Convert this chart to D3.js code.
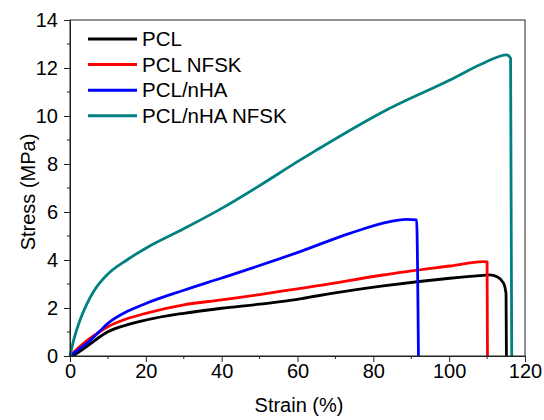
<!DOCTYPE html>
<html>
<head>
<meta charset="utf-8">
<script src="https://cdn.jsdelivr.net/npm/d3@7"></script>
<style>
  body { margin:0; background:#fff; }
  text { font-family: "Liberation Sans", Arial, sans-serif; fill:#000; }
</style>
</head>
<body>
<div class="svgContainer"></div>
<script>
// values (strain %, stress MPa)
var names   = ["PCL", "PCL NFSK", "PCL/nHA", "PCL/nHA NFSK"];
var colors  = ["#000000", "#ff0000", "#0000ff", "#008080"];

var pclStrain  = [0.8, 2.5, 5, 7.5, 10, 15, 20, 30, 40, 50, 60, 65, 82.6, 100.2, 108, 110.8, 112.5, 114.3, 115, 115.1];
var pclStress  = [0, 0.18, 0.46, 0.76, 1.01, 1.3, 1.5, 1.78, 1.99, 2.16, 2.36, 2.5, 2.92, 3.24, 3.35, 3.38, 3.31, 3.05, 2.6, 0];

var nfskStrain = [0, 2.5, 5, 7.5, 10, 15, 20, 30, 40, 50, 60, 65, 82.6, 100.2, 109, 110, 110.1];
var nfskStress = [0, 0.38, 0.7, 0.98, 1.22, 1.55, 1.78, 2.13, 2.34, 2.56, 2.8, 2.92, 3.375, 3.75, 3.93, 3.92, 0];

var nhaStrain  = [0, 2.5, 5, 7.5, 10, 15, 20, 30, 40, 50, 60.7, 73.8, 84.4, 88.8, 91.4, 91.9];
var nhaStress  = [0, 0.3, 0.6, 0.98, 1.36, 1.85, 2.19, 2.74, 3.25, 3.77, 4.35, 5.11, 5.6, 5.69, 5.67, 0];

var bothStrain = [0, 1, 2.6, 4.4, 6.1, 8, 10, 15, 20, 30, 40, 50, 60, 65, 82.6, 100.2, 109, 115.2, 116.2, 116.5];
var bothStress = [0, 0.68, 1.48, 2.15, 2.66, 3.08, 3.42, 4.0, 4.49, 5.3, 6.15, 7.1, 8.1, 8.58, 10.18, 11.5, 12.2, 12.55, 12.4, 0];

var xTicks = [0, 20, 40, 60, 80, 100, 120];
var yTicks = [0, 2, 4, 6, 8, 10, 12, 14];

var series = [
  {name: names[0], color: colors[0], x: pclStrain,  y: pclStress},
  {name: names[1], color: colors[1], x: nfskStrain, y: nfskStress},
  {name: names[2], color: colors[2], x: nhaStrain,  y: nhaStress},
  {name: names[3], color: colors[3], x: bothStrain, y: bothStress}
];

var width = 544, height = 420;
var margin = {left:70, right:19, top:20, bottom:64};

function drawChart(){
  var svg = d3.select(".svgContainer")
    .append("svg")
    .attr("width", width)
    .attr("height", height);

  var x = d3.scaleLinear().domain([0,120]).range([margin.left, width - margin.right]);
  var y = d3.scaleLinear().domain([0,14]).range([height - margin.bottom, margin.top]);

  // curves
  var line = d3.line()
    .x(function(d){ return x(d[0]); })
    .y(function(d){ return y(d[1]); })
    .curve(d3.curveMonotoneX);

  series.forEach(function(s){
    var pts = s.x.map(function(v,i){ return [v, s.y[i]]; });
    svg.append("path")
      .datum(pts)
      .attr("fill","none")
      .attr("stroke", s.color)
      .attr("stroke-width", 2.8)
      .attr("stroke-linejoin","round")
      .attr("d", line);
  });

  // frame (top + right)
  svg.append("rect")
    .attr("x", x(0)).attr("y", y(14))
    .attr("width", x(120) - x(0)).attr("height", y(0) - y(14))
    .attr("fill","none").attr("stroke","#222").attr("stroke-width",1);

  // axes
  var xAxis = d3.axisBottom(x).tickValues(xTicks).tickSize(6).tickPadding(2).tickSizeOuter(0);
  var yAxis = d3.axisLeft(y).tickValues(yTicks).tickSize(6).tickPadding(6).tickSizeOuter(0);

  var gx = svg.append("g").attr("transform","translate(0," + y(0) + ")").call(xAxis);
  var gy = svg.append("g").attr("transform","translate(" + x(0) + ",0)").call(yAxis);

  // minor ticks
  gx.selectAll(".minor").data(d3.range(10,120,20)).enter().append("line")
    .attr("x1", function(d){ return x(d); }).attr("x2", function(d){ return x(d); })
    .attr("y1", 0).attr("y2", 3).attr("stroke","#222");
  gy.selectAll(".minor").data(d3.range(1,14,2)).enter().append("line")
    .attr("y1", function(d){ return y(d); }).attr("y2", function(d){ return y(d); })
    .attr("x1", 0).attr("x2", -3).attr("stroke","#222");

  [gx, gy].forEach(function(g){
    g.selectAll("path").attr("stroke","#222");
    g.selectAll(".tick line").attr("stroke","#222");
    g.selectAll("text").style("font-size","20px").style("font-family","'Liberation Sans', Arial, sans-serif").attr("fill","#000");
  });

  // axis titles
  svg.append("text")
    .attr("x", 299).attr("y", 412)
    .attr("text-anchor","middle")
    .style("font-size","20px")
    .text("Strain (%)");

  svg.append("text")
    .attr("transform","translate(35,192) rotate(-90)")
    .attr("text-anchor","middle")
    .style("font-size","20px")
    .text("Stress (MPa)");

  // legend
  var legend = svg.append("g");
  series.forEach(function(s,i){
    var ly = 39 + i*25.6;
    legend.append("line")
      .attr("x1", 88).attr("x2", 137).attr("y1", ly).attr("y2", ly)
      .attr("stroke", s.color).attr("stroke-width", 3);
    legend.append("text")
      .attr("x", 142).attr("y", ly + 7)
      .style("font-size","20.5px")
      .text(s.name);
  });
}

drawChart();
</script>
</body>
</html>
